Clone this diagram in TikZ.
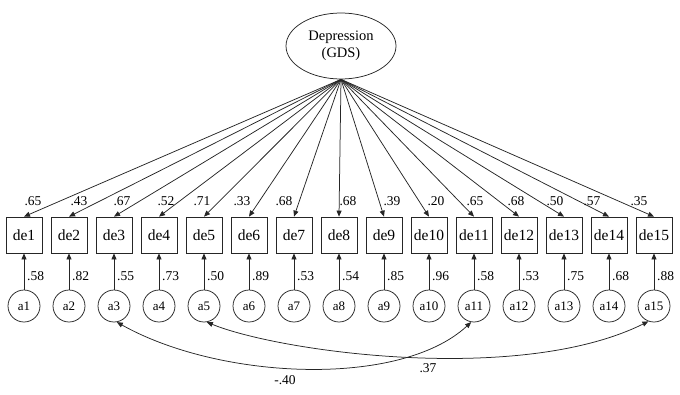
\documentclass[tikz,border=0pt]{standalone}
\usepackage{fontspec}
\setmainfont{Liberation Serif}
\usetikzlibrary{arrows.meta,shapes.geometric}
\begin{document}
\begin{tikzpicture}[x=1pt,y=-1pt,
  ln/.style={draw=black!85, line width=0.75pt},
  arr/.style={ln, -{Triangle[length=6pt,width=5pt]}},
  darr/.style={ln, {Triangle[length=6pt,width=5pt]}-{Triangle[length=6pt,width=5pt]}},
  ell/.style={ellipse, ln, minimum width=110pt, minimum height=66pt, inner sep=0pt, align=center, font=\fontsize{14.5}{17}\selectfont},
  boxn/.style={rectangle, ln, minimum width=36pt, minimum height=36pt, inner sep=0pt, font=\fontsize{15.5}{17}\selectfont},
  circn/.style={circle, ln, minimum size=32pt, inner sep=0pt, font=\fontsize{13}{15}\selectfont},
  lab/.style={font=\fontsize{13.5}{15}\selectfont, inner sep=0pt}]
\useasboundingbox (0,0) rectangle (680,394);
\node[ell] (dep) at (341,46) {Depression\\(GDS)};
\foreach \i/\t/\tx/\b in {1/.65/33/.58, 2/.43/79/.82, 3/.67/122/.55, 4/.52/166/.73, 5/.71/202/.50, 6/.33/242/.89, 7/.68/284/.53, 8/.68/348/.54, 9/.39/392/.85, 10/.20/436/.96, 11/.65/475/.58, 12/.68/516/.53, 13/.50/555/.75, 14/.57/592/.68, 15/.35/639/.88} {
  \node[boxn] (de\i) at ({24+45*(\i-1)},235) {de\i};
  \node[circn] (a\i) at ({24+45*(\i-1)},306) {a\i};
  \draw[arr] (dep.south) -- (de\i.north);
  \draw[arr] (a\i) -- (de\i);
  \node[lab] (t\i) at (\tx,201) {\t};
  \node[lab, anchor=west] (b\i) at ({27+45*(\i-1)},276) {\b};
}
\draw[darr] (a3.-80) .. controls (220,380) and (400,388) .. (a11.-100);
\draw[darr] (a5.-80) .. controls (280,352) and (520,385) .. (a15.-110);
\node[lab] (c1) at (285,380) {-.40};
\node[lab] (c2) at (428,368) {.37};
\end{tikzpicture}
\end{document}
